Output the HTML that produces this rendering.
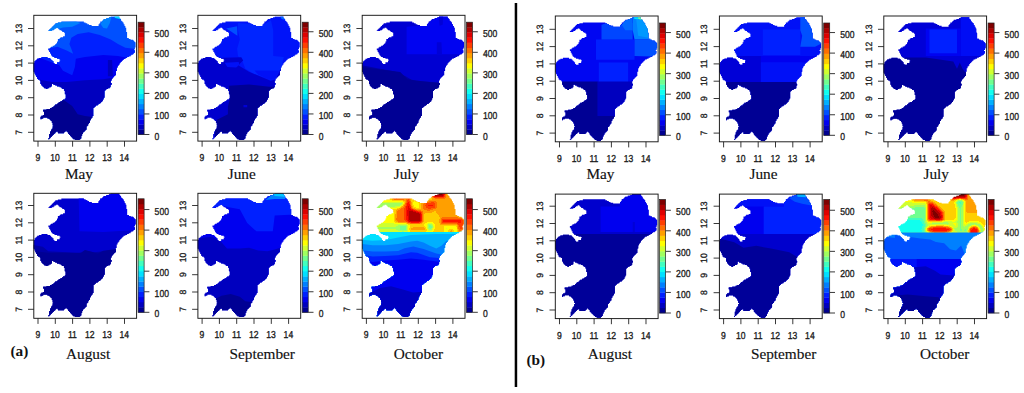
<!DOCTYPE html>
<html><head><meta charset="utf-8"><title>figure</title>
<style>
html,body{margin:0;padding:0;background:#fff;overflow:hidden}
svg{display:block}
.t{font-family:"Liberation Sans",sans-serif;font-size:8.6px;fill:#1c1c1c;stroke:#1c1c1c;stroke-width:0.28px;text-rendering:geometricPrecision}
.m{font-family:"Liberation Serif",serif;font-size:15.3px;fill:#111;stroke:#111;stroke-width:0.15px}
.b{font-family:"Liberation Serif",serif;font-size:15.3px;font-weight:bold;fill:#111}
</style></head><body>
<svg width="1024" height="393" viewBox="0 0 1024 393">
<defs>
<clipPath id="shape"><path d="M76.86 1.09h8.65v0.89h-8.65zM75.13 1.96h10.38v0.89h-10.38zM72.53 2.82h13.84v0.89h-13.84zM69.94 3.68h17.30v0.89h-17.30zM69.08 4.55h18.16v0.89h-18.16zM68.21 5.41h19.89v0.89h-19.89zM27.55 6.28h22.49v0.89h-22.49zM66.48 6.28h22.49v0.89h-22.49zM24.09 7.14h27.68v0.89h-27.68zM66.48 7.14h23.36v0.89h-23.36zM21.50 8.01h32.01v0.89h-32.01zM65.61 8.01h24.22v0.89h-24.22zM20.63 8.88h34.60v0.89h-34.60zM64.75 8.88h25.95v0.89h-25.95zM19.77 9.74h38.06v0.89h-38.06zM64.75 9.74h25.95v0.89h-25.95zM18.91 10.61h72.66v0.89h-72.66zM18.04 11.47h73.53v0.89h-73.53zM17.18 12.33h5.19v0.89h-5.19zM24.09 12.33h68.33v0.89h-68.33zM16.31 13.20h4.33v0.89h-4.33zM24.96 13.20h67.47v0.89h-67.47zM15.45 14.06h4.33v0.89h-4.33zM25.82 14.06h66.61v0.89h-66.61zM14.58 14.93h3.46v0.89h-3.46zM27.55 14.93h64.88v0.89h-64.88zM28.42 15.79h64.01v0.89h-64.01zM30.15 16.66h63.14v0.89h-63.14zM31.02 17.52h62.28v0.89h-62.28zM31.02 18.39h62.28v0.89h-62.28zM31.02 19.25h62.28v0.89h-62.28zM31.02 20.12h62.28v0.89h-62.28zM29.29 20.98h64.01v0.89h-64.01zM26.69 21.85h66.61v0.89h-66.61zM25.82 22.71h69.20v0.89h-69.20zM24.09 23.58h72.66v0.89h-72.66zM24.09 24.45h75.25v0.89h-75.25zM24.09 25.31h76.12v0.89h-76.12zM23.23 26.17h77.85v0.89h-77.85zM23.23 27.04h78.72v0.89h-78.72zM22.36 27.91h79.58v0.89h-79.58zM21.50 28.77h80.44v0.89h-80.44zM20.63 29.63h81.31v0.89h-81.31zM18.91 30.50h83.04v0.89h-83.04zM17.18 31.36h84.77v0.89h-84.77zM16.31 32.23h84.77v0.89h-84.77zM14.58 33.09h86.50v0.89h-86.50zM14.58 33.96h85.64v0.89h-85.64zM15.45 34.83h85.64v0.89h-85.64zM15.45 35.69h85.64v0.89h-85.64zM16.31 36.55h84.77v0.89h-84.77zM16.31 37.42h83.91v0.89h-83.91zM17.18 38.28h82.17v0.89h-82.17zM17.18 39.15h80.44v0.89h-80.44zM18.04 40.02h78.72v0.89h-78.72zM18.91 40.88h76.12v0.89h-76.12zM7.66 41.74h6.05v0.89h-6.05zM20.63 41.74h72.66v0.89h-72.66zM5.07 42.61h11.24v0.89h-11.24zM23.23 42.61h68.33v0.89h-68.33zM3.33 43.47h13.84v0.89h-13.84zM25.82 43.47h64.01v0.89h-64.01zM2.47 44.34h15.57v0.89h-15.57zM26.69 44.34h62.28v0.89h-62.28zM1.61 45.20h17.30v0.89h-17.30zM25.82 45.20h62.28v0.89h-62.28zM0.74 46.07h19.03v0.89h-19.03zM25.82 46.07h61.41v0.89h-61.41zM0.74 46.94h19.03v0.89h-19.03zM23.23 46.94h63.14v0.89h-63.14zM-0.12 47.80h20.76v0.89h-20.76zM23.23 47.80h62.28v0.89h-62.28zM-0.12 48.66h23.36v0.89h-23.36zM23.23 48.66h62.28v0.89h-62.28zM-0.12 49.53h84.77v0.89h-84.77zM-0.12 50.39h83.91v0.89h-83.91zM-0.12 51.26h83.91v0.89h-83.91zM-0.12 52.12h83.04v0.89h-83.04zM-0.12 52.99h83.04v0.89h-83.04zM-0.12 53.86h83.04v0.89h-83.04zM-0.12 54.72h83.04v0.89h-83.04zM-0.12 55.58h82.17v0.89h-82.17zM0.74 56.45h81.31v0.89h-81.31zM0.74 57.31h81.31v0.89h-81.31zM1.61 58.18h80.44v0.89h-80.44zM1.61 59.05h80.44v0.89h-80.44zM2.47 59.91h78.72v0.89h-78.72zM2.47 60.78h77.85v0.89h-77.85zM3.33 61.64h76.12v0.89h-76.12zM3.33 62.50h75.25v0.89h-75.25zM4.20 63.37h73.53v0.89h-73.53zM5.93 64.23h71.80v0.89h-71.80zM6.79 65.10h70.06v0.89h-70.06zM6.79 65.97h70.06v0.89h-70.06zM6.79 66.83h70.06v0.89h-70.06zM6.79 67.69h70.93v0.89h-70.93zM7.66 68.56h10.38v0.89h-10.38zM19.77 68.56h57.95v0.89h-57.95zM7.66 69.42h10.38v0.89h-10.38zM21.50 69.42h55.36v0.89h-55.36zM8.53 70.29h9.52v0.89h-9.52zM23.23 70.29h53.63v0.89h-53.63zM9.39 71.16h7.79v0.89h-7.79zM25.82 71.16h51.03v0.89h-51.03zM10.25 72.02h5.19v0.89h-5.19zM27.55 72.02h48.44v0.89h-48.44zM11.98 72.89h1.73v0.89h-1.73zM28.42 72.89h45.84v0.89h-45.84zM30.15 73.75h42.38v0.89h-42.38zM30.15 74.61h41.52v0.89h-41.52zM31.02 75.48h39.79v0.89h-39.79zM31.02 76.34h39.79v0.89h-39.79zM31.02 77.21h39.79v0.89h-39.79zM31.02 78.08h39.79v0.89h-39.79zM31.88 78.94h38.92v0.89h-38.92zM31.88 79.81h38.92v0.89h-38.92zM31.88 80.67h38.92v0.89h-38.92zM31.88 81.53h38.92v0.89h-38.92zM31.88 82.40h38.06v0.89h-38.06zM31.02 83.27h38.92v0.89h-38.92zM29.29 84.13h39.79v0.89h-39.79zM28.42 85.00h40.66v0.89h-40.66zM26.69 85.86h41.52v0.89h-41.52zM24.96 86.73h42.38v0.89h-42.38zM24.09 87.59h42.38v0.89h-42.38zM23.23 88.45h41.52v0.89h-41.52zM21.50 89.32h42.38v0.89h-42.38zM20.63 90.19h41.52v0.89h-41.52zM19.77 91.05h41.52v0.89h-41.52zM18.04 91.92h42.38v0.89h-42.38zM16.31 92.78h43.25v0.89h-43.25zM12.85 93.64h46.71v0.89h-46.71zM9.39 94.51h50.17v0.89h-50.17zM9.39 95.38h50.17v0.89h-50.17zM10.25 96.24h49.30v0.89h-49.30zM10.25 97.11h49.30v0.89h-49.30zM10.25 97.97h49.30v0.89h-49.30zM10.25 98.84h49.30v0.89h-49.30zM9.39 99.70h50.17v0.89h-50.17zM7.66 100.56h51.03v0.89h-51.03zM6.79 101.43h51.90v0.89h-51.90zM6.79 102.30h2.59v0.89h-2.59zM13.71 102.30h44.12v0.89h-44.12zM6.79 103.16h0.86v0.89h-0.86zM15.45 103.16h41.52v0.89h-41.52zM16.31 104.03h40.66v0.89h-40.66zM17.18 104.89h38.92v0.89h-38.92zM18.04 105.75h38.06v0.89h-38.06zM18.04 106.62h38.06v0.89h-38.06zM18.91 107.48h36.33v0.89h-36.33zM18.91 108.35h35.46v0.89h-35.46zM18.91 109.22h35.46v0.89h-35.46zM19.77 110.08h33.73v0.89h-33.73zM18.91 110.95h33.73v0.89h-33.73zM18.91 111.81h33.73v0.89h-33.73zM18.91 112.67h33.73v0.89h-33.73zM18.04 113.54h34.60v0.89h-34.60zM17.18 114.41h34.60v0.89h-34.60zM17.18 115.27h14.71v0.89h-14.71zM32.74 115.27h18.16v0.89h-18.16zM16.31 116.14h6.05v0.89h-6.05zM24.09 116.14h6.92v0.89h-6.92zM33.61 116.14h16.43v0.89h-16.43zM16.31 117.00h5.19v0.89h-5.19zM24.09 117.00h6.05v0.89h-6.05zM34.48 117.00h14.71v0.89h-14.71zM16.31 117.86h4.33v0.89h-4.33zM34.48 117.86h14.71v0.89h-14.71zM15.45 118.73h4.33v0.89h-4.33zM35.34 118.73h12.97v0.89h-12.97zM15.45 119.59h3.46v0.89h-3.46zM36.21 119.59h12.11v0.89h-12.11zM15.45 120.46h2.59v0.89h-2.59zM37.07 120.46h10.38v0.89h-10.38zM15.45 121.33h1.73v0.89h-1.73zM37.94 121.33h9.52v0.89h-9.52zM15.45 122.19h0.86v0.89h-0.86zM38.80 122.19h8.65v0.89h-8.65zM14.58 123.06h0.86v0.89h-0.86zM39.66 123.06h6.92v0.89h-6.92zM41.40 123.92h4.33v0.89h-4.33z"/></clipPath>
<filter id="jet" x="-20%" y="-20%" width="140%" height="140%" color-interpolation-filters="sRGB"><feGaussianBlur stdDeviation="1.5"/><feComponentTransfer><feFuncR type="discrete" tableValues="0.000 0.000 0.000 0.000 0.000 0.000 0.000 0.000 0.063 0.251 0.439 0.627 0.816 1.000 1.000 1.000 1.000 1.000 1.000 0.875 0.686 0.498"/><feFuncG type="discrete" tableValues="0.000 0.000 0.000 0.125 0.314 0.502 0.690 0.878 1.000 1.000 1.000 1.000 1.000 1.000 0.812 0.624 0.435 0.247 0.059 0.000 0.000 0.000"/><feFuncB type="discrete" tableValues="0.561 0.749 0.937 1.000 1.000 1.000 1.000 1.000 0.937 0.749 0.561 0.373 0.184 0.000 0.000 0.000 0.000 0.000 0.000 0.000 0.000 0.000"/></feComponentTransfer></filter>
<filter id="jet1" x="-20%" y="-20%" width="140%" height="140%" color-interpolation-filters="sRGB"><feGaussianBlur stdDeviation="1.3"/><feComponentTransfer><feFuncR type="discrete" tableValues="0.000 0.000 0.000 0.000 0.000 0.000 0.000 0.000 0.063 0.251 0.439 0.627 0.816 1.000 1.000 1.000 1.000 1.000 1.000 0.875 0.686 0.498"/><feFuncG type="discrete" tableValues="0.000 0.000 0.000 0.125 0.314 0.502 0.690 0.878 1.000 1.000 1.000 1.000 1.000 1.000 0.812 0.624 0.435 0.247 0.059 0.000 0.000 0.000"/><feFuncB type="discrete" tableValues="0.561 0.749 0.937 1.000 1.000 1.000 1.000 1.000 0.937 0.749 0.561 0.373 0.184 0.000 0.000 0.000 0.000 0.000 0.000 0.000 0.000 0.000"/></feComponentTransfer></filter>
<g id="axL1"><rect x="0" y="0" width="102.8" height="125.8" fill="none" stroke="#161616" stroke-width="0.95"/><path d="M4.20 125.80v5.6M21.50 125.80v5.6M38.80 125.80v5.6M56.10 125.80v5.6M73.40 125.80v5.6M90.70 125.80v5.6M0 13.20h-5.8M0 30.50h-5.8M0 47.80h-5.8M0 65.10h-5.8M0 82.40h-5.8M0 99.70h-5.8M0 117.00h-5.8M110.3 119.20h5.3M110.3 98.65h5.3M110.3 78.10h5.3M110.3 57.55h5.3M110.3 37.00h5.3M110.3 16.45h5.3" stroke="#151515" stroke-width="0.85" fill="none"/><text class="t" transform="translate(4.0 145.7) scale(1 1.17)" text-anchor="middle">9</text><text class="t" transform="translate(21.3 145.7) scale(1 1.17)" text-anchor="middle">10</text><text class="t" transform="translate(38.6 145.7) scale(1 1.17)" text-anchor="middle">11</text><text class="t" transform="translate(55.9 145.7) scale(1 1.17)" text-anchor="middle">12</text><text class="t" transform="translate(73.2 145.7) scale(1 1.17)" text-anchor="middle">13</text><text class="t" transform="translate(90.5 145.7) scale(1 1.17)" text-anchor="middle">14</text><text class="t" transform="translate(-12.1 13.2) rotate(-90) scale(1 1.07)" text-anchor="middle">13</text><text class="t" transform="translate(-12.1 30.5) rotate(-90) scale(1 1.07)" text-anchor="middle">12</text><text class="t" transform="translate(-12.1 47.8) rotate(-90) scale(1 1.07)" text-anchor="middle">11</text><text class="t" transform="translate(-12.1 65.1) rotate(-90) scale(1 1.07)" text-anchor="middle">10</text><text class="t" transform="translate(-12.1 82.4) rotate(-90) scale(1 1.07)" text-anchor="middle">9</text><text class="t" transform="translate(-12.1 99.7) rotate(-90) scale(1 1.07)" text-anchor="middle">8</text><text class="t" transform="translate(-12.1 117.0) rotate(-90) scale(1 1.07)" text-anchor="middle">7</text><rect x="104.3" y="114.10" width="6.0" height="5.40" fill="#00008F"/><rect x="104.3" y="108.99" width="6.0" height="5.40" fill="#0000BF"/><rect x="104.3" y="103.89" width="6.0" height="5.40" fill="#0000EF"/><rect x="104.3" y="98.78" width="6.0" height="5.40" fill="#0020FF"/><rect x="104.3" y="93.68" width="6.0" height="5.40" fill="#0050FF"/><rect x="104.3" y="88.57" width="6.0" height="5.40" fill="#0080FF"/><rect x="104.3" y="83.47" width="6.0" height="5.40" fill="#00B0FF"/><rect x="104.3" y="78.36" width="6.0" height="5.40" fill="#00E0FF"/><rect x="104.3" y="73.26" width="6.0" height="5.40" fill="#10FFEF"/><rect x="104.3" y="68.15" width="6.0" height="5.40" fill="#40FFBF"/><rect x="104.3" y="63.05" width="6.0" height="5.40" fill="#70FF8F"/><rect x="104.3" y="57.95" width="6.0" height="5.40" fill="#A0FF5F"/><rect x="104.3" y="52.84" width="6.0" height="5.40" fill="#D0FF2F"/><rect x="104.3" y="47.74" width="6.0" height="5.40" fill="#FFFF00"/><rect x="104.3" y="42.63" width="6.0" height="5.40" fill="#FFCF00"/><rect x="104.3" y="37.53" width="6.0" height="5.40" fill="#FF9F00"/><rect x="104.3" y="32.42" width="6.0" height="5.40" fill="#FF6F00"/><rect x="104.3" y="27.32" width="6.0" height="5.40" fill="#FF3F00"/><rect x="104.3" y="22.21" width="6.0" height="5.40" fill="#FF0F00"/><rect x="104.3" y="17.11" width="6.0" height="5.40" fill="#DF0000"/><rect x="104.3" y="12.00" width="6.0" height="5.40" fill="#AF0000"/><rect x="104.3" y="6.90" width="6.0" height="5.40" fill="#7F0000"/><rect x="104.3" y="6.90" width="6.0" height="112.3" fill="none" stroke="#222" stroke-width="0.7"/><text class="t" transform="translate(120.8 124.3) scale(1 1.17)">0</text><text class="t" transform="translate(120.8 103.8) scale(1 1.17)">100</text><text class="t" transform="translate(120.8 83.2) scale(1 1.17)">200</text><text class="t" transform="translate(120.8 62.6) scale(1 1.17)">300</text><text class="t" transform="translate(120.8 42.1) scale(1 1.17)">400</text><text class="t" transform="translate(120.8 21.6) scale(1 1.17)">500</text></g>
<g id="axL2"><rect x="0" y="1.0" width="102.8" height="125.0" fill="none" stroke="#161616" stroke-width="0.95"/><path d="M4.20 126.00v5.6M21.50 126.00v5.6M38.80 126.00v5.6M56.10 126.00v5.6M73.40 126.00v5.6M90.70 126.00v5.6M0 13.20h-5.8M0 30.50h-5.8M0 47.80h-5.8M0 65.10h-5.8M0 82.40h-5.8M0 99.70h-5.8M0 117.00h-5.8M110.3 120.00h5.3M110.3 99.45h5.3M110.3 78.90h5.3M110.3 58.35h5.3M110.3 37.80h5.3M110.3 17.25h5.3" stroke="#151515" stroke-width="0.85" fill="none"/><text class="t" transform="translate(4.0 145.9) scale(1 1.17)" text-anchor="middle">9</text><text class="t" transform="translate(21.3 145.9) scale(1 1.17)" text-anchor="middle">10</text><text class="t" transform="translate(38.6 145.9) scale(1 1.17)" text-anchor="middle">11</text><text class="t" transform="translate(55.9 145.9) scale(1 1.17)" text-anchor="middle">12</text><text class="t" transform="translate(73.2 145.9) scale(1 1.17)" text-anchor="middle">13</text><text class="t" transform="translate(90.5 145.9) scale(1 1.17)" text-anchor="middle">14</text><text class="t" transform="translate(-12.1 13.2) rotate(-90) scale(1 1.07)" text-anchor="middle">13</text><text class="t" transform="translate(-12.1 30.5) rotate(-90) scale(1 1.07)" text-anchor="middle">12</text><text class="t" transform="translate(-12.1 47.8) rotate(-90) scale(1 1.07)" text-anchor="middle">11</text><text class="t" transform="translate(-12.1 65.1) rotate(-90) scale(1 1.07)" text-anchor="middle">10</text><text class="t" transform="translate(-12.1 82.4) rotate(-90) scale(1 1.07)" text-anchor="middle">9</text><text class="t" transform="translate(-12.1 99.7) rotate(-90) scale(1 1.07)" text-anchor="middle">8</text><text class="t" transform="translate(-12.1 117.0) rotate(-90) scale(1 1.07)" text-anchor="middle">7</text><rect x="104.3" y="114.84" width="6.0" height="5.46" fill="#00008F"/><rect x="104.3" y="109.68" width="6.0" height="5.46" fill="#0000BF"/><rect x="104.3" y="104.52" width="6.0" height="5.46" fill="#0000EF"/><rect x="104.3" y="99.36" width="6.0" height="5.46" fill="#0020FF"/><rect x="104.3" y="94.20" width="6.0" height="5.46" fill="#0050FF"/><rect x="104.3" y="89.05" width="6.0" height="5.46" fill="#0080FF"/><rect x="104.3" y="83.89" width="6.0" height="5.46" fill="#00B0FF"/><rect x="104.3" y="78.73" width="6.0" height="5.46" fill="#00E0FF"/><rect x="104.3" y="73.57" width="6.0" height="5.46" fill="#10FFEF"/><rect x="104.3" y="68.41" width="6.0" height="5.46" fill="#40FFBF"/><rect x="104.3" y="63.25" width="6.0" height="5.46" fill="#70FF8F"/><rect x="104.3" y="58.09" width="6.0" height="5.46" fill="#A0FF5F"/><rect x="104.3" y="52.93" width="6.0" height="5.46" fill="#D0FF2F"/><rect x="104.3" y="47.77" width="6.0" height="5.46" fill="#FFFF00"/><rect x="104.3" y="42.61" width="6.0" height="5.46" fill="#FFCF00"/><rect x="104.3" y="37.45" width="6.0" height="5.46" fill="#FF9F00"/><rect x="104.3" y="32.30" width="6.0" height="5.46" fill="#FF6F00"/><rect x="104.3" y="27.14" width="6.0" height="5.46" fill="#FF3F00"/><rect x="104.3" y="21.98" width="6.0" height="5.46" fill="#FF0F00"/><rect x="104.3" y="16.82" width="6.0" height="5.46" fill="#DF0000"/><rect x="104.3" y="11.66" width="6.0" height="5.46" fill="#AF0000"/><rect x="104.3" y="6.50" width="6.0" height="5.46" fill="#7F0000"/><rect x="104.3" y="6.50" width="6.0" height="113.5" fill="none" stroke="#222" stroke-width="0.7"/><text class="t" transform="translate(120.8 125.1) scale(1 1.17)">0</text><text class="t" transform="translate(120.8 104.5) scale(1 1.17)">100</text><text class="t" transform="translate(120.8 84.0) scale(1 1.17)">200</text><text class="t" transform="translate(120.8 63.4) scale(1 1.17)">300</text><text class="t" transform="translate(120.8 42.9) scale(1 1.17)">400</text><text class="t" transform="translate(120.8 22.4) scale(1 1.17)">500</text></g>
<g id="axR1"><rect x="0" y="-0.1" width="102.8" height="125.8" fill="none" stroke="#161616" stroke-width="0.95"/><path d="M4.20 125.70v5.6M21.50 125.70v5.6M38.80 125.70v5.6M56.10 125.70v5.6M73.40 125.70v5.6M90.70 125.70v5.6M0 13.20h-5.8M0 30.50h-5.8M0 47.80h-5.8M0 65.10h-5.8M0 82.40h-5.8M0 99.70h-5.8M0 117.00h-5.8M110.3 119.20h5.3M110.3 98.65h5.3M110.3 78.10h5.3M110.3 57.55h5.3M110.3 37.00h5.3M110.3 16.45h5.3" stroke="#151515" stroke-width="0.85" fill="none"/><text class="t" transform="translate(4.0 145.6) scale(1 1.17)" text-anchor="middle">9</text><text class="t" transform="translate(21.3 145.6) scale(1 1.17)" text-anchor="middle">10</text><text class="t" transform="translate(38.6 145.6) scale(1 1.17)" text-anchor="middle">11</text><text class="t" transform="translate(55.9 145.6) scale(1 1.17)" text-anchor="middle">12</text><text class="t" transform="translate(73.2 145.6) scale(1 1.17)" text-anchor="middle">13</text><text class="t" transform="translate(90.5 145.6) scale(1 1.17)" text-anchor="middle">14</text><text class="t" transform="translate(-12.1 13.2) rotate(-90) scale(1 1.07)" text-anchor="middle">13</text><text class="t" transform="translate(-12.1 30.5) rotate(-90) scale(1 1.07)" text-anchor="middle">12</text><text class="t" transform="translate(-12.1 47.8) rotate(-90) scale(1 1.07)" text-anchor="middle">11</text><text class="t" transform="translate(-12.1 65.1) rotate(-90) scale(1 1.07)" text-anchor="middle">10</text><text class="t" transform="translate(-12.1 82.4) rotate(-90) scale(1 1.07)" text-anchor="middle">9</text><text class="t" transform="translate(-12.1 99.7) rotate(-90) scale(1 1.07)" text-anchor="middle">8</text><text class="t" transform="translate(-12.1 117.0) rotate(-90) scale(1 1.07)" text-anchor="middle">7</text><rect x="104.3" y="114.10" width="6.0" height="5.40" fill="#00008F"/><rect x="104.3" y="108.99" width="6.0" height="5.40" fill="#0000BF"/><rect x="104.3" y="103.89" width="6.0" height="5.40" fill="#0000EF"/><rect x="104.3" y="98.78" width="6.0" height="5.40" fill="#0020FF"/><rect x="104.3" y="93.68" width="6.0" height="5.40" fill="#0050FF"/><rect x="104.3" y="88.57" width="6.0" height="5.40" fill="#0080FF"/><rect x="104.3" y="83.47" width="6.0" height="5.40" fill="#00B0FF"/><rect x="104.3" y="78.36" width="6.0" height="5.40" fill="#00E0FF"/><rect x="104.3" y="73.26" width="6.0" height="5.40" fill="#10FFEF"/><rect x="104.3" y="68.15" width="6.0" height="5.40" fill="#40FFBF"/><rect x="104.3" y="63.05" width="6.0" height="5.40" fill="#70FF8F"/><rect x="104.3" y="57.95" width="6.0" height="5.40" fill="#A0FF5F"/><rect x="104.3" y="52.84" width="6.0" height="5.40" fill="#D0FF2F"/><rect x="104.3" y="47.74" width="6.0" height="5.40" fill="#FFFF00"/><rect x="104.3" y="42.63" width="6.0" height="5.40" fill="#FFCF00"/><rect x="104.3" y="37.53" width="6.0" height="5.40" fill="#FF9F00"/><rect x="104.3" y="32.42" width="6.0" height="5.40" fill="#FF6F00"/><rect x="104.3" y="27.32" width="6.0" height="5.40" fill="#FF3F00"/><rect x="104.3" y="22.21" width="6.0" height="5.40" fill="#FF0F00"/><rect x="104.3" y="17.11" width="6.0" height="5.40" fill="#DF0000"/><rect x="104.3" y="12.00" width="6.0" height="5.40" fill="#AF0000"/><rect x="104.3" y="6.90" width="6.0" height="5.40" fill="#7F0000"/><rect x="104.3" y="6.90" width="6.0" height="112.3" fill="none" stroke="#222" stroke-width="0.7"/><text class="t" transform="translate(120.8 124.3) scale(1 1.17)">0</text><text class="t" transform="translate(120.8 103.8) scale(1 1.17)">100</text><text class="t" transform="translate(120.8 83.2) scale(1 1.17)">200</text><text class="t" transform="translate(120.8 62.6) scale(1 1.17)">300</text><text class="t" transform="translate(120.8 42.1) scale(1 1.17)">400</text><text class="t" transform="translate(120.8 21.6) scale(1 1.17)">500</text></g>
<g id="axR2"><rect x="0" y="1.1" width="102.8" height="124.5" fill="none" stroke="#161616" stroke-width="0.95"/><path d="M4.20 125.60v5.6M21.50 125.60v5.6M38.80 125.60v5.6M56.10 125.60v5.6M73.40 125.60v5.6M90.70 125.60v5.6M0 13.20h-5.8M0 30.50h-5.8M0 47.80h-5.8M0 65.10h-5.8M0 82.40h-5.8M0 99.70h-5.8M0 117.00h-5.8M110.3 120.00h5.3M110.3 99.45h5.3M110.3 78.90h5.3M110.3 58.35h5.3M110.3 37.80h5.3M110.3 17.25h5.3" stroke="#151515" stroke-width="0.85" fill="none"/><text class="t" transform="translate(4.0 145.5) scale(1 1.17)" text-anchor="middle">9</text><text class="t" transform="translate(21.3 145.5) scale(1 1.17)" text-anchor="middle">10</text><text class="t" transform="translate(38.6 145.5) scale(1 1.17)" text-anchor="middle">11</text><text class="t" transform="translate(55.9 145.5) scale(1 1.17)" text-anchor="middle">12</text><text class="t" transform="translate(73.2 145.5) scale(1 1.17)" text-anchor="middle">13</text><text class="t" transform="translate(90.5 145.5) scale(1 1.17)" text-anchor="middle">14</text><text class="t" transform="translate(-12.1 13.2) rotate(-90) scale(1 1.07)" text-anchor="middle">13</text><text class="t" transform="translate(-12.1 30.5) rotate(-90) scale(1 1.07)" text-anchor="middle">12</text><text class="t" transform="translate(-12.1 47.8) rotate(-90) scale(1 1.07)" text-anchor="middle">11</text><text class="t" transform="translate(-12.1 65.1) rotate(-90) scale(1 1.07)" text-anchor="middle">10</text><text class="t" transform="translate(-12.1 82.4) rotate(-90) scale(1 1.07)" text-anchor="middle">9</text><text class="t" transform="translate(-12.1 99.7) rotate(-90) scale(1 1.07)" text-anchor="middle">8</text><text class="t" transform="translate(-12.1 117.0) rotate(-90) scale(1 1.07)" text-anchor="middle">7</text><rect x="104.3" y="114.84" width="6.0" height="5.46" fill="#00008F"/><rect x="104.3" y="109.68" width="6.0" height="5.46" fill="#0000BF"/><rect x="104.3" y="104.52" width="6.0" height="5.46" fill="#0000EF"/><rect x="104.3" y="99.36" width="6.0" height="5.46" fill="#0020FF"/><rect x="104.3" y="94.20" width="6.0" height="5.46" fill="#0050FF"/><rect x="104.3" y="89.05" width="6.0" height="5.46" fill="#0080FF"/><rect x="104.3" y="83.89" width="6.0" height="5.46" fill="#00B0FF"/><rect x="104.3" y="78.73" width="6.0" height="5.46" fill="#00E0FF"/><rect x="104.3" y="73.57" width="6.0" height="5.46" fill="#10FFEF"/><rect x="104.3" y="68.41" width="6.0" height="5.46" fill="#40FFBF"/><rect x="104.3" y="63.25" width="6.0" height="5.46" fill="#70FF8F"/><rect x="104.3" y="58.09" width="6.0" height="5.46" fill="#A0FF5F"/><rect x="104.3" y="52.93" width="6.0" height="5.46" fill="#D0FF2F"/><rect x="104.3" y="47.77" width="6.0" height="5.46" fill="#FFFF00"/><rect x="104.3" y="42.61" width="6.0" height="5.46" fill="#FFCF00"/><rect x="104.3" y="37.45" width="6.0" height="5.46" fill="#FF9F00"/><rect x="104.3" y="32.30" width="6.0" height="5.46" fill="#FF6F00"/><rect x="104.3" y="27.14" width="6.0" height="5.46" fill="#FF3F00"/><rect x="104.3" y="21.98" width="6.0" height="5.46" fill="#FF0F00"/><rect x="104.3" y="16.82" width="6.0" height="5.46" fill="#DF0000"/><rect x="104.3" y="11.66" width="6.0" height="5.46" fill="#AF0000"/><rect x="104.3" y="6.50" width="6.0" height="5.46" fill="#7F0000"/><rect x="104.3" y="6.50" width="6.0" height="113.5" fill="none" stroke="#222" stroke-width="0.7"/><text class="t" transform="translate(120.8 125.1) scale(1 1.17)">0</text><text class="t" transform="translate(120.8 104.5) scale(1 1.17)">100</text><text class="t" transform="translate(120.8 84.0) scale(1 1.17)">200</text><text class="t" transform="translate(120.8 63.4) scale(1 1.17)">300</text><text class="t" transform="translate(120.8 42.9) scale(1 1.17)">400</text><text class="t" transform="translate(120.8 22.4) scale(1 1.17)">500</text></g>
</defs>
<rect width="1024" height="393" fill="#fff"/>
<g transform="translate(33.8 15.3)">
<g clip-path="url(#shape)">
<rect fill="#0050FF" x="-2.0" y="-2.0" width="106.9" height="129.3"/>
<polygon fill="#0080FF" points="12.7,16.9 23.7,6.8 42.0,5.9 46.6,7.7 38.4,11.4 29.2,12.3 20.0,15.0"/>
<polygon fill="#0080FF" points="66.8,8.6 69.5,4.0 77.8,1.3 76.0,7.7 73.2,13.2 69.5,12.8"/>
<polygon fill="#00E0FF" points="77.8,-1.1 87.3,-1.1 87.5,4.0 81.5,2.8"/>
<polygon fill="#0020FF" points="12.7,33.4 23.7,31.5 32.9,35.2 39.3,38.5 37.5,33.4 35.6,28.8 37.5,22.4 43.9,18.7 54.9,16.9 65.9,19.6 76.9,24.2 84.2,28.8 91.5,32.5 106.2,34.3 106.2,70.0 -3.8,70.0 -3.8,33.4"/>
<polygon fill="#0000EF" points="-3.8,38.9 25.5,49.9 29.2,55.4 38.4,60.0 41.1,51.7 42.0,43.5 51.2,41.6 69.5,39.8 84.2,40.7 93.4,42.5 106.2,42.5 106.2,70.0 -3.8,70.0"/>
<polygon fill="#0000BF" points="74.1,44.7 78.3,44.7 79.1,60.9 74.1,60.9"/>
<polygon fill="#0000BF" points="-3.8,62.2 3.5,64.0 18.2,66.8 32.9,66.8 51.2,65.0 69.5,64.0 80.5,62.2 106.2,62.2 106.2,423.4 -3.8,423.4"/>
<polygon fill="#00008F" points="-3.8,84.2 29.2,84.2 38.4,90.6 43.9,98.9 51.2,100.7 58.5,101.6 62.2,98.0 69.5,423.4 -3.8,423.4"/>
</g>
<use href="#axL1"/>
</g>
<g transform="translate(197.9 15.3)">
<g clip-path="url(#shape)">
<rect fill="#0013F9" x="-2.0" y="-2.0" width="106.9" height="129.3"/>
<polygon fill="#0025FF" points="40.1,7.7 65.8,9.5 73.1,4.9 75.3,15.0 75.3,40.7 85.9,41.6 82.3,57.2 76.8,60.9 65.8,61.8 56.6,59.0 47.4,53.5 44.7,46.2 40.1,40.7 39.2,33.4 41.9,24.2 40.1,15.0"/>
<polygon fill="#0050FF" points="28.2,13.2 39.2,11.0 39.5,20.5 32.8,15.9"/>
<polygon fill="#0068FF" points="81.3,-1.1 86.7,-1.1 86.8,4.4 83.7,3.7"/>
<polygon fill="#0000CD" points="-2.4,40.0 7.7,41.0 16.6,43.8 25.6,42.5 43.4,41.9 45.3,45.1 42.1,48.3 40.8,50.2 51.0,56.5 63.7,61.6 72.7,65.4 77.8,64.2 81.6,55.3 91.8,43.8 91.8,279.3 -2.4,279.3"/>
<polygon fill="#0010F7" points="26.8,47.4 40.8,46.6 41.5,49.5 38.3,52.1 29.4,51.7"/>
<polygon fill="#0010F7" points="56.6,55.2 82.3,55.2 76.8,64.0 69.4,63.1 60.3,59.5"/>
<polygon fill="#000094" points="30.9,70.5 51.1,69.2 71.3,71.4 106.1,71.4 106.1,423.4 16.3,423.4 17.2,111.7 19.0,104.4 30.0,98.9 30.0,91.5 31.8,84.2"/>
<polygon fill="#0000D7" points="45.6,89.7 49.3,89.7 49.3,91.9 45.6,91.9"/>
</g>
<use href="#axL1"/>
</g>
<g transform="translate(362.2 15.3)">
<g clip-path="url(#shape)">
<rect fill="#0000D2" x="-2.0" y="-2.0" width="106.9" height="129.3"/>
<polygon fill="#0003F1" points="44.4,11.4 63.6,9.9 69.1,4.0 80.1,-2.4 105.8,-2.4 105.8,38.9 44.4,38.9"/>
<polygon fill="#0000D7" points="74.6,26.9 79.2,26.9 79.8,38.9 74.6,38.9"/>
<polygon fill="#0000D7" points="76.5,-1.5 81.1,-1.5 80.5,9.5 77.4,10.4"/>
<polygon fill="#0000A7" points="-4.2,48.0 -0.5,49.9 14.1,52.6 32.5,56.3 43.5,60.9 50.8,65.5 76.5,67.3 105.8,68.2 105.8,363.4 -4.2,363.4"/>
<polygon fill="#000094" points="-4.2,51.2 38.0,56.7 45.3,64.0 60.0,65.9 76.5,67.7 105.8,67.7 105.8,423.4 -4.2,423.4"/>
</g>
<use href="#axL1"/>
</g>
<g transform="translate(33.8 192.3)">
<g clip-path="url(#shape)">
<rect fill="#0000CD" x="-2.0" y="-2.0" width="106.9" height="129.3"/>
<polygon fill="#0000EF" points="44.8,4.0 106.2,-3.3 106.2,37.4 69.5,39.8 45.7,38.9"/>
<polygon fill="#0000A7" points="-3.8,51.7 -0.1,52.6 9.0,54.4 14.5,59.0 32.9,59.9 45.7,60.9 51.2,58.1 60.4,59.9 69.5,59.0 82.4,57.2 106.2,57.2 106.2,363.4 -3.8,363.4"/>
<polygon fill="#000094" points="-3.8,58.5 14.5,60.4 47.5,60.4 51.2,57.6 64.0,61.3 69.5,58.5 82.4,56.7 106.2,56.7 106.2,423.4 -3.8,423.4"/>
</g>
<use href="#axL2"/>
</g>
<g transform="translate(197.9 192.3)">
<g clip-path="url(#shape)">
<rect fill="#0000EF" x="-2.0" y="-2.0" width="106.9" height="129.3"/>
<polygon fill="#0020FF" points="10.8,16.9 23.6,13.2 30.9,15.0 41.9,16.9 43.8,20.5 49.3,30.6 58.4,38.9 74.9,38.9 76.8,23.3 91.4,22.4 106.1,22.4 106.1,-3.3 10.8,-3.3"/>
<polygon fill="#0080FF" points="67.6,7.7 78.6,-1.1 87.2,-1.1 87.2,6.8 76.8,6.8"/>
<polygon fill="#00C8FF" points="74.0,-1.5 87.2,-1.5 86.7,4.4 76.8,3.7"/>
<polygon fill="#0000BF" points="-3.9,46.2 14.4,44.4 23.6,49.9 29.1,56.3 41.9,56.3 51.1,55.4 60.3,58.1 69.4,59.0 76.8,57.2 82.3,55.4 106.1,55.4 106.1,363.4 -3.9,363.4"/>
<polygon fill="#000094" points="14.4,109.9 18.1,106.2 23.6,103.4 32.8,101.6 41.9,104.4 47.4,108.9 54.8,109.9 69.4,109.9 69.4,423.4 14.4,423.4"/>
</g>
<use href="#axL2"/>
</g>
<g transform="translate(362.2 192.3)">
<g clip-path="url(#shape)">
<clipPath id="cn_a"><rect x="-5" y="-5" width="112.9" height="44.7"/></clipPath>
<g><rect fill="#00E0FF" x="-5.0" y="38.7" width="112.9" height="125.3"/><polygon fill="#00B0FF" points="-8.6,47.8 1.6,47.8 10.5,48.4 23.2,47.8 36.0,45.2 48.7,42.7 61.4,42.1 74.1,41.8 86.8,41.8 112.3,41.8 112.3,290.0 -8.6,290.0"/><polygon fill="#0080FF" points="-8.6,51.6 0.3,51.6 10.5,52.9 23.2,52.9 36.0,51.6 48.7,49.1 55.0,48.4 61.4,50.3 67.7,53.5 74.1,56.3 79.2,53.5 84.3,48.4 89.4,47.1 112.3,47.1 112.3,290.0 -8.6,290.0"/><polygon fill="#0050FF" points="-8.6,58.0 0.3,58.0 10.5,59.2 23.2,59.2 36.0,58.6 42.3,56.0 51.2,54.1 61.4,56.7 74.1,61.1 80.5,62.4 112.3,62.4 112.3,290.0 -8.6,290.0"/><polygon fill="#0020FF" points="-8.6,63.0 2.9,63.0 10.5,64.3 23.2,63.7 36.0,63.0 48.7,59.9 55.0,60.5 67.7,64.9 76.6,65.6 112.3,65.6 112.3,290.0 -8.6,290.0"/><polygon fill="#0000EF" points="-8.6,68.8 6.7,68.8 10.5,69.8 23.2,68.1 36.0,67.5 48.7,66.2 61.4,67.5 76.6,69.4 112.3,69.4 112.3,290.0 -8.6,290.0"/><polygon fill="#0000BF" points="-4.2,104.9 6.8,101.2 17.8,95.7 28.8,93.9 41.6,97.5 50.8,100.3 60.0,99.4 72.8,97.5 72.8,429.4 -4.2,429.4"/></g>
<g clip-path="url(#cn_a)"><g filter="url(#jet)"><rect fill="rgb(168,168,168)" x="-5.0" y="-5.0" width="112.9" height="49.7"/><polygon fill="rgb(180,180,180)" points="74.2,3.8 95.6,3.8 96.6,25.1 78.3,25.1 73.7,20.0"/><polygon fill="rgb(185,185,185)" points="58.6,9.9 70.9,9.9 70.9,20.0 58.6,20.0"/><polygon fill="rgb(156,156,156)" points="18.0,20.0 34.2,19.0 35.3,33.3 18.0,33.3"/><polygon fill="rgb(159,159,159)" points="49.0,8.3 58.6,9.9 58.6,17.5 52.0,17.0"/><polygon fill="rgb(129,129,129)" points="9.8,18.0 17.0,9.4 41.4,9.4 42.9,13.9 33.2,15.2 23.1,15.2"/><polygon fill="rgb(220,220,220)" points="30.7,4.8 42.9,4.8 43.4,7.0 30.7,7.2"/><polygon fill="rgb(197,197,197)" points="45.6,8.3 33.7,20.0 33.2,30.2 45.6,30.2"/><polygon fill="rgb(231,231,231)" points="45.3,5.3 46.9,5.3 48.5,15.0 50.5,17.0 59.9,20.0 59.9,30.6 45.0,30.6 44.4,20.0"/><polygon fill="rgb(241,241,241)" points="47.0,19.0 58.2,20.4 58.2,29.8 47.7,29.8"/><polygon fill="rgb(139,139,139)" points="11.7,31.5 45.4,31.5 45.4,40.3 11.7,40.3"/><polygon fill="rgb(119,119,119)" points="37.1,32.6 45.4,32.2 45.4,38.8 37.1,38.8"/><polygon fill="rgb(156,156,156)" points="45.4,31.5 70.3,31.5 70.3,40.3 45.4,40.3"/><polygon fill="rgb(185,185,185)" points="47.4,34.6 65.4,34.6 65.4,38.1 47.4,38.1"/><polygon fill="rgb(116,116,116)" points="65.2,31.3 70.8,31.3 70.8,37.5 65.2,37.5"/><polygon fill="rgb(145,145,145)" points="82.5,33.2 94.7,33.2 94.7,40.3 82.5,40.3"/><polygon fill="rgb(180,180,180)" points="85.9,36.3 92.0,36.3 92.0,40.3 85.9,40.3"/><polygon fill="rgb(203,203,203)" points="95.7,27.1 101.6,27.1 101.6,38.8 95.7,38.8"/><polygon fill="rgb(209,209,209)" points="63.1,9.9 73.7,8.6 73.7,16.5 63.1,16.5"/><polygon fill="rgb(214,214,214)" points="78.8,25.9 100.7,26.3 100.7,31.4 78.8,31.8"/><polygon fill="rgb(249,249,249)" points="70.2,-1.3 82.4,-1.3 82.4,4.8 70.2,4.8"/></g></g>
</g>
<use href="#axL2"/>
</g>
<g transform="translate(555.3 16.1)">
<g clip-path="url(#shape)">
<rect fill="#0006F2" x="-2.0" y="-2.0" width="106.9" height="129.3"/>
<polygon fill="#0020FF" points="40.7,23.4 79.2,23.4 79.2,43.6 40.7,43.6"/>
<polygon fill="#0046FF" points="46.2,8.7 51.7,6.9 66.4,8.7 77.4,6.9 77.4,23.4 46.2,23.4"/>
<polygon fill="#0080FF" points="77.4,-3.2 106.7,-3.2 106.7,25.2 92.0,23.4 79.2,23.4 77.4,14.2"/>
<polygon fill="#0068FF" points="66.4,8.7 70.0,4.1 77.4,1.4 77.4,14.2 70.0,14.2"/>
<polygon fill="#0050FF" points="79.2,23.4 92.0,23.4 106.7,25.2 106.7,40.8 79.2,39.9"/>
<polygon fill="#0098FF" points="81.0,3.2 92.0,3.2 93.0,21.6 82.9,19.7"/>
<polygon fill="#00E0FF" points="77.4,-2.3 82.9,-2.3 82.9,3.2 79.2,2.9"/>
<polygon fill="#70FF8F" points="82.5,-2.3 87.5,-2.3 86.5,3.6 82.9,2.9"/>
<polygon fill="#0020FF" points="43.5,46.3 72.8,46.3 72.8,72.9 43.5,72.9"/>
<polygon fill="#000094" points="-3.3,65.4 42.5,65.4 42.5,99.9 106.7,99.9 106.7,422.6 -3.3,422.6"/>
<polygon fill="#0000BF" points="42.5,65.4 106.7,65.4 106.7,99.9 42.5,99.9"/>
</g>
<use href="#axR1"/>
</g>
<g transform="translate(719.4 16.1)">
<g clip-path="url(#shape)">
<rect fill="#0010F7" x="-2.0" y="-2.0" width="106.9" height="129.3"/>
<polygon fill="#0020FF" points="43.4,13.3 80.9,13.3 80.9,39.0 43.4,39.0"/>
<polygon fill="#0050FF" points="80.9,-3.2 87.4,-3.2 92.9,14.2 102.9,27.1 95.6,30.7 80.9,30.7 82.8,19.7 80.9,14.2"/>
<polygon fill="#0000EF" points="-3.4,39.9 106.6,39.9 106.6,46.3 -3.4,46.3"/>
<polygon fill="#0000D7" points="-3.4,39.9 41.5,39.9 41.5,72.9 -3.4,72.9"/>
<polygon fill="#0010F7" points="41.5,46.3 82.8,46.3 82.8,72.9 41.5,72.9"/>
<polygon fill="#000094" points="-3.4,66.0 106.6,66.0 106.6,422.6 -3.4,422.6"/>
</g>
<use href="#axR1"/>
</g>
<g transform="translate(883.8 16.1)">
<g clip-path="url(#shape)">
<rect fill="#0000D7" x="-2.0" y="-2.0" width="106.9" height="129.3"/>
<polygon fill="#0003F1" points="42.0,12.4 76.9,12.4 76.9,39.9 42.0,39.9"/>
<polygon fill="#0020FF" points="45.7,13.3 73.2,13.3 73.2,37.1 45.7,37.1"/>
<polygon fill="#000DF5" points="76.9,-3.2 106.2,-3.2 106.2,39.9 76.9,39.9"/>
<polygon fill="#000099" points="-3.8,41.4 42.0,41.4 69.5,45.4 73.2,52.7 76.0,46.3 78.7,52.7 82.4,57.3 84.2,362.6 -3.8,362.6"/>
<polygon fill="#000099" points="-3.8,55.9 106.2,55.9 106.2,422.6 -3.8,422.6"/>
</g>
<use href="#axR1"/>
</g>
<g transform="translate(555.3 193.0)">
<g clip-path="url(#shape)">
<rect fill="#0000CD" x="-2.0" y="-2.0" width="106.9" height="129.3"/>
<polygon fill="#0000EF" points="45.3,13.4 64.5,13.4 64.5,-3.1 106.7,-3.1 106.7,39.1 45.3,39.1"/>
<polygon fill="#0000D7" points="77.4,29.0 79.6,29.0 79.6,39.1 77.4,39.1"/>
<polygon fill="#000099" points="-3.3,40.9 106.7,40.9 106.7,362.7 -3.3,362.7"/>
</g>
<use href="#axR2"/>
</g>
<g transform="translate(719.4 193.0)">
<g clip-path="url(#shape)">
<rect fill="#0000EF" x="-2.0" y="-2.0" width="106.9" height="129.3"/>
<polygon fill="#0010F7" points="11.3,5.2 64.4,5.2 64.4,13.4 11.3,13.4"/>
<polygon fill="#0020FF" points="44.3,13.4 64.4,13.4 64.4,-3.1 106.6,-3.1 106.6,40.9 44.3,40.9"/>
<polygon fill="#0050FF" points="69.9,5.2 77.3,1.5 88.3,1.5 91.9,12.5 82.8,10.7 75.4,8.8"/>
<polygon fill="#00B0FF" points="76.4,-2.5 87.7,-2.5 86.8,4.2 78.2,3.7"/>
<polygon fill="#0000CD" points="-3.4,40.9 106.6,40.9 106.6,362.7 -3.4,362.7"/>
<polygon fill="#000099" points="-3.4,44.6 0.3,45.5 14.9,49.2 24.1,54.7 36.9,52.8 51.6,55.6 69.9,59.2 77.3,63.8 82.8,67.5 106.6,69.3 106.6,362.7 -3.4,362.7"/>
</g>
<use href="#axR2"/>
</g>
<g transform="translate(883.8 193.0)">
<g clip-path="url(#shape)">
<clipPath id="cn_b"><rect x="-5" y="-5" width="112.9" height="44.6"/></clipPath>
<g><rect fill="#0080FF" x="-5.0" y="38.6" width="112.9" height="125.3"/><polygon fill="#0050FF" points="11.1,41.9 16.2,42.4 36.6,45.4 46.7,46.4 56.9,51.5 62.0,55.6 72.2,57.6 77.3,52.5 81.4,62.0 87.5,72.9 87.5,225.6 11.1,225.6"/><polygon fill="#0050FF" points="-3.8,43.0 18.2,45.8 42.0,47.6 60.4,50.3 69.5,59.5 82.4,61.3 106.2,61.3 106.2,398.7 -3.8,398.7"/><polygon fill="#0000EF" points="-3.8,66.1 106.2,66.1 106.2,398.7 -3.8,398.7"/><polygon fill="#0013F9" points="-3.8,66.1 32.9,66.1 32.9,74.5 -3.8,74.5"/><polygon fill="#0000BF" points="-3.8,74.5 31.0,74.2 42.0,73.2 51.2,77.8 56.7,81.5 69.5,82.4 72.3,77.8 76.9,76.0 106.2,76.0 106.2,398.7 -3.8,398.7"/><polygon fill="#000094" points="-3.8,103.2 14.5,102.3 23.7,101.4 42.0,103.2 54.9,104.2 56.7,107.8 69.5,107.8 69.5,428.7 -3.8,428.7"/></g>
<g clip-path="url(#cn_b)"><g filter="url(#jet)"><rect fill="rgb(168,168,168)" x="-5.0" y="-5.0" width="112.9" height="49.6"/><polygon fill="rgb(122,122,122)" points="3.1,8.7 42.6,8.7 42.6,41.7 3.1,41.7"/><polygon fill="rgb(145,145,145)" points="10.2,17.3 17.4,8.7 43.3,8.7 43.3,12.2 23.5,14.3"/><polygon fill="rgb(102,102,102)" points="3.1,25.6 37.7,25.2 42.8,32.1 42.8,41.7 3.1,41.7"/><polygon fill="rgb(214,214,214)" points="30.6,4.9 44.3,4.9 44.8,7.7 30.6,7.7"/><polygon fill="rgb(224,224,224)" points="44.0,8.7 48.9,10.0 59.6,19.3 59.6,30.7 44.0,30.7"/><polygon fill="rgb(249,249,249)" points="46.6,14.3 49.9,15.3 56.2,21.9 56.2,28.7 52.9,28.0 48.3,22.4"/><polygon fill="rgb(126,126,126)" points="73.4,5.9 79.9,5.9 79.9,41.7 73.4,41.7"/><polygon fill="rgb(114,114,114)" points="72.4,5.9 79.9,5.9 79.9,12.4 72.4,12.4"/><polygon fill="rgb(180,180,180)" points="80.9,2.1 96.0,2.1 96.0,19.3 80.9,19.3"/><polygon fill="rgb(249,249,249)" points="67.5,-2.0 82.6,-2.0 82.6,5.9 67.5,5.9"/><polygon fill="rgb(133,133,133)" points="39.6,28.1 73.2,28.1 73.2,30.1 39.6,30.1"/><ellipse fill="rgb(122,122,122)" cx="55.9" cy="36.3" rx="16.8" ry="6.7"/><ellipse fill="rgb(212,212,212)" cx="55.9" cy="36.5" rx="13.7" ry="4.1"/><ellipse fill="rgb(122,122,122)" cx="90.0" cy="37.3" rx="10.0" ry="8.1"/><ellipse fill="rgb(214,214,214)" cx="90.3" cy="38.1" rx="5.7" ry="5.3"/></g></g>
</g>
<use href="#axR2"/>
</g>
<text class="m" x="79" y="179.3" text-anchor="middle">May</text>
<text class="m" x="241.75" y="179" text-anchor="middle">June</text>
<text class="m" x="406.5" y="179" text-anchor="middle">July</text>
<text class="m" x="88.1" y="358.75" text-anchor="middle">August</text>
<text class="m" x="262.25" y="358.75" text-anchor="middle">September</text>
<text class="m" x="418.4" y="358.75" text-anchor="middle">October</text>
<text class="m" x="600.5" y="179.3" text-anchor="middle">May</text>
<text class="m" x="763.5" y="179" text-anchor="middle">June</text>
<text class="m" x="936.25" y="179" text-anchor="middle">July</text>
<text class="m" x="609.9" y="358.75" text-anchor="middle">August</text>
<text class="m" x="783.6" y="358.75" text-anchor="middle">September</text>
<text class="m" x="944.7" y="358.75" text-anchor="middle">October</text>
<text class="b" x="10.5" y="356.3">(a)</text>
<text class="b" x="526.5" y="364.5">(b)</text>
<rect x="514.7" y="3" width="2.5" height="384" fill="#000"/>
</svg>
</body></html>
